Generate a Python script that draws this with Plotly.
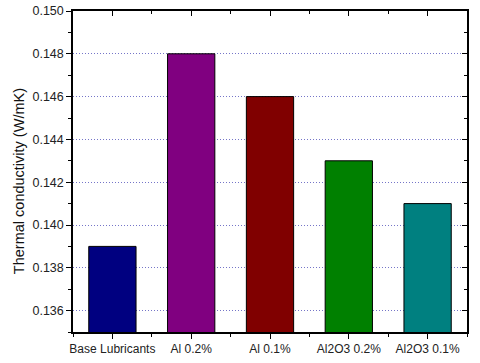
import plotly.graph_objects as go

# samples and measured thermal conductivity (W/mK)
samples = ["Base Lubricants", "Al 0.2%", "Al 0.1%", "Al2O3 0.2%", "Al2O3 0.1%"]
conductivity = [0.139, 0.148, 0.146, 0.143, 0.141]
bar_colors = ["#000080", "#800080", "#800000", "#008000", "#008080"]
ytick_vals = [0.136, 0.138, 0.140, 0.142, 0.144, 0.146, 0.148, 0.150]

positions = list(range(len(samples)))
font = dict(family="Liberation Sans, Arial, sans-serif", size=12, color="#222")

fig = go.Figure()
fig.add_trace(go.Bar(x=positions, y=conductivity, width=0.6,
                     marker=dict(color=bar_colors, line=dict(color="black", width=1)),
                     showlegend=False))

fig.update_layout(
    width=480, height=363,
    margin=dict(l=73, r=13, t=11, b=31),
    plot_bgcolor="white", paper_bgcolor="white",
    font=font,
    xaxis=dict(range=[-0.5, len(samples) - 0.5], tickvals=positions, ticktext=samples,
               ticks="outside", ticklen=5, tickcolor="black", showgrid=False, automargin=False,
               showline=True, linecolor="black", linewidth=1.5, zeroline=False,
               minor=dict(tick0=-0.5, dtick=1, ticks="outside", ticklen=3, tickcolor="black")),
    yaxis=dict(range=[0.135, 0.150], tickvals=ytick_vals, tickformat=".3f", automargin=False,
               ticks="outside", ticklen=5, tickcolor="black", tickfont=dict(size=12.5),
               showline=True, linecolor="black", linewidth=1.5, zeroline=False,
               showgrid=True, gridcolor="#7575c8", griddash="1px,2px", gridwidth=1,
               minor=dict(tick0=0.135, dtick=0.001, ticks="outside", ticklen=3,
                          tickcolor="black", showgrid=False)),
    xaxis2=dict(overlaying="x", side="top", range=[-0.5, len(samples) - 0.5], automargin=False,
                tickvals=positions, showticklabels=False, ticks="inside", ticklen=5,
                tickcolor="black", showline=True, linecolor="black", linewidth=1.5,
                showgrid=False, zeroline=False,
                minor=dict(tick0=-0.5, dtick=1, ticks="inside", ticklen=3, tickcolor="black")),
    yaxis2=dict(overlaying="y", side="right", range=[0.135, 0.150], tickvals=ytick_vals,
                showticklabels=False, ticks="inside", ticklen=5, tickcolor="black", automargin=False,
                showline=True, linecolor="black", linewidth=1.5, showgrid=False, zeroline=False,
                minor=dict(tick0=0.135, dtick=0.001, ticks="inside", ticklen=3, tickcolor="black")),
)

# y title placed as an annotation, it sits a little below the middle in the original
fig.add_annotation(text="Thermal conductivity (W/mK)", textangle=-90, showarrow=False,
                   xref="paper", yref="paper", x=0, y=0.47, xshift=-54,
                   xanchor="center", yanchor="middle", font=dict(size=14.5, color="#111"))

# invisible trace to activate the mirrored axes
fig.add_trace(go.Scatter(x=[positions[0]], y=[conductivity[0]], xaxis="x2", yaxis="y2",
                         mode="markers", marker=dict(opacity=0), showlegend=False,
                         hoverinfo="skip"))

# drop the default page margin so the figure sits at the window corner
fig.write_html("out.html", config={"displayModeBar": False},
               post_script="document.body.style.margin = '0';")
